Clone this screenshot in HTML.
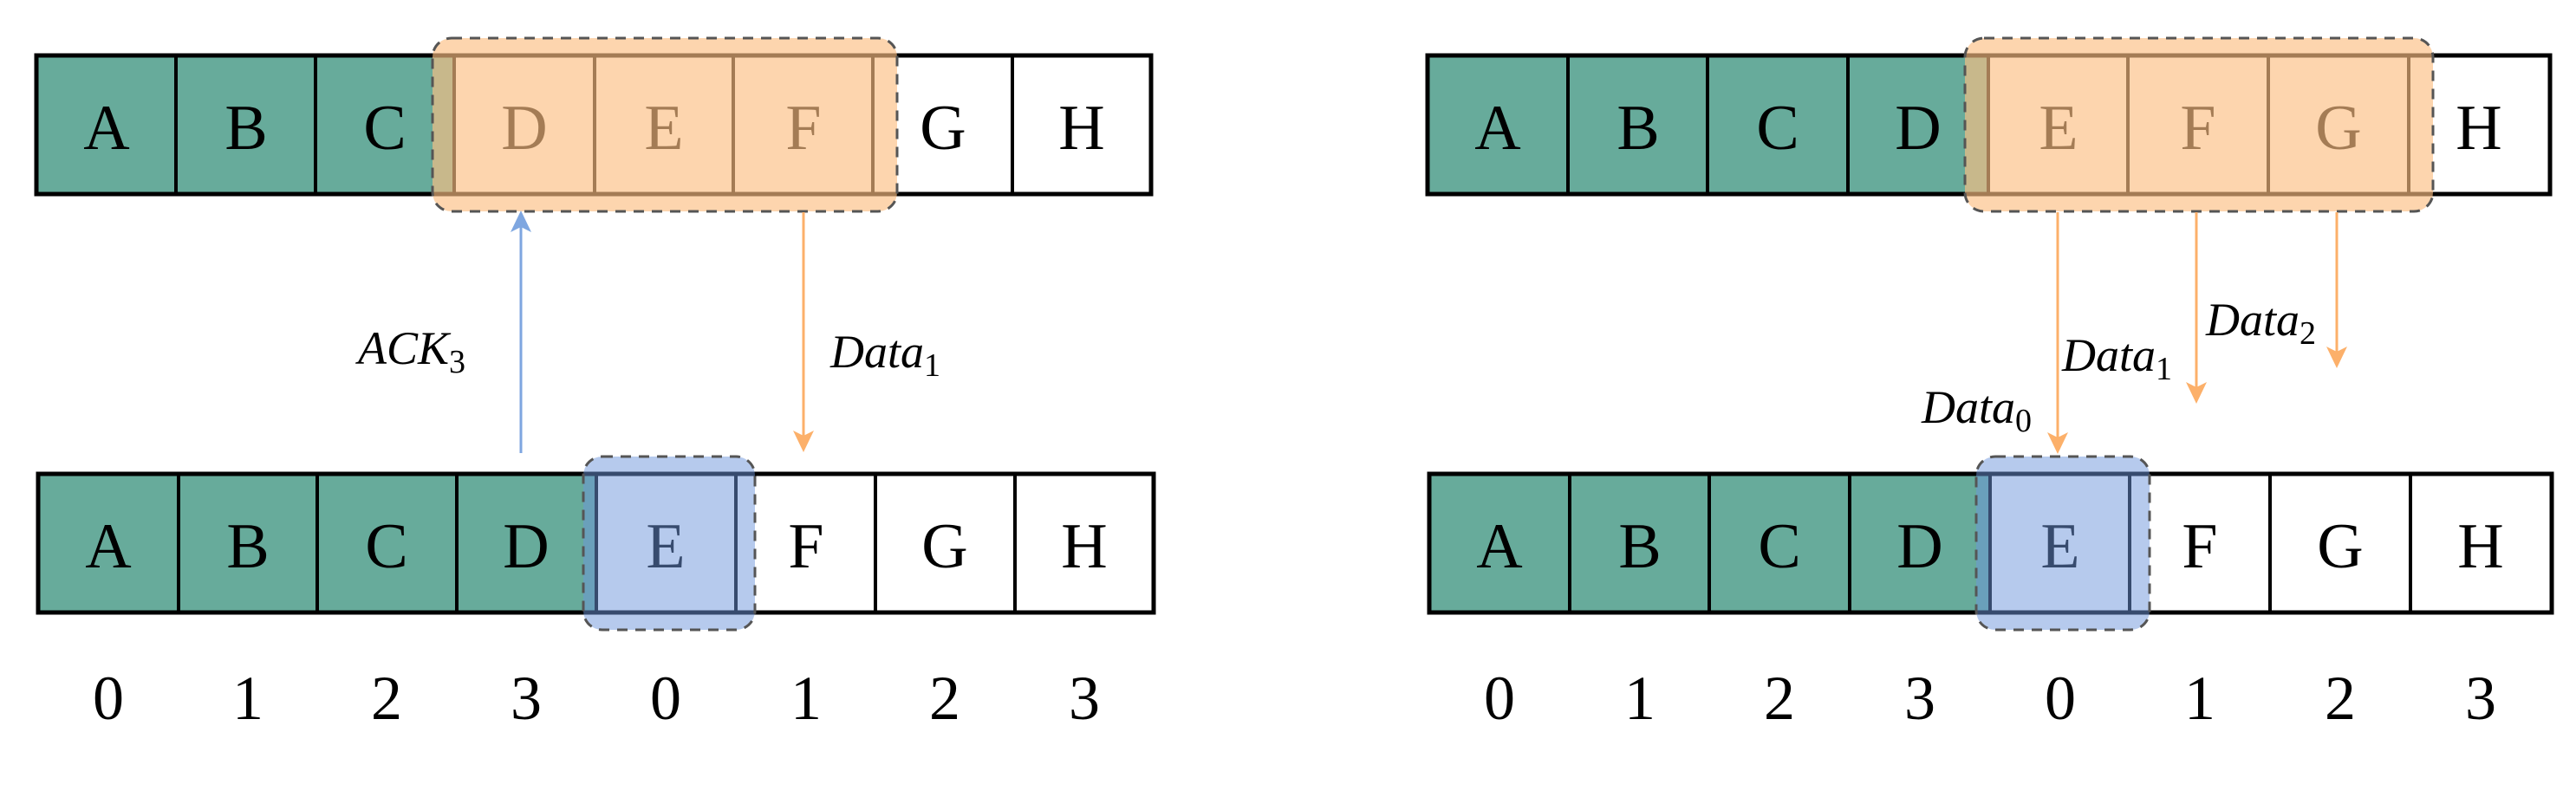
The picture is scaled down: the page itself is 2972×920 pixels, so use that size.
<!DOCTYPE html>
<html><head><meta charset="utf-8"><style>html,body{margin:0;padding:0;background:#fff}svg{display:block}</style></head>
<body>
<svg width="2972" height="920" viewBox="0 0 2972 920" xmlns="http://www.w3.org/2000/svg">
<g font-family="Liberation Serif, serif" font-size="74" text-anchor="middle">
<!-- LEFT TOP -->
<rect x="42" y="64" width="483" height="160" fill="#67ab9b"/>
<rect x="42" y="64" width="1286" height="160" fill="none" stroke="#000" stroke-width="5"/>
<g stroke="#000" stroke-width="4"><line x1="203" y1="64" x2="203" y2="224"/><line x1="364" y1="64" x2="364" y2="224"/><line x1="524" y1="64" x2="524" y2="224"/><line x1="686" y1="64" x2="686" y2="224"/><line x1="846" y1="64" x2="846" y2="224"/><line x1="1007" y1="64" x2="1007" y2="224"/><line x1="1168" y1="64" x2="1168" y2="224"/></g>
<text x="123" y="172">A</text><text x="284" y="172">B</text><text x="444" y="172">C</text><text x="605" y="172">D</text><text x="766" y="172">E</text><text x="927" y="172">F</text><text x="1088" y="172">G</text><text x="1248" y="172">H</text>
<rect x="499" y="44" width="536" height="200" rx="22" fill="rgba(252,190,130,0.65)" stroke="#555" stroke-width="3" stroke-dasharray="12 9"/>
<!-- LEFT BOTTOM -->
<rect x="44" y="547" width="644" height="160" fill="#67ab9b"/>
<rect x="44" y="547" width="1287" height="160" fill="none" stroke="#000" stroke-width="5"/>
<g stroke="#000" stroke-width="4"><line x1="206" y1="547" x2="206" y2="707"/><line x1="366" y1="547" x2="366" y2="707"/><line x1="527" y1="547" x2="527" y2="707"/><line x1="688" y1="547" x2="688" y2="707"/><line x1="849" y1="547" x2="849" y2="707"/><line x1="1010" y1="547" x2="1010" y2="707"/><line x1="1171" y1="547" x2="1171" y2="707"/></g>
<text x="125" y="655">A</text><text x="286" y="655">B</text><text x="446" y="655">C</text><text x="607" y="655">D</text><text x="768" y="655">E</text><text x="930" y="655">F</text><text x="1090" y="655">G</text><text x="1251" y="655">H</text>
<rect x="673" y="527" width="198" height="200" rx="22" fill="rgba(110,150,220,0.5)" stroke="#555" stroke-width="3" stroke-dasharray="12 9"/>
<g font-size="72"><text x="125" y="830">0</text><text x="286" y="830">1</text><text x="446" y="830">2</text><text x="607" y="830">3</text><text x="768" y="830">0</text><text x="930" y="830">1</text><text x="1090" y="830">2</text><text x="1251" y="830">3</text></g>
<!-- left arrows -->
<line x1="601" y1="523" x2="601" y2="250" stroke="#7ea6e0" stroke-width="3"/>
<path d="M601 243 L613 268 L601 262 L589 268 Z" fill="#7ea6e0"/>
<line x1="927" y1="245" x2="927" y2="515" stroke="#fcb06a" stroke-width="3"/>
<path d="M927 522 L939 497 L927 503 L915 497 Z" fill="#fcb06a"/>
<g font-style="italic" font-size="54" text-anchor="start">
<text x="413" y="420">ACK<tspan font-size="38" font-style="normal" dy="10">3</tspan></text>
<text x="958" y="424">Data<tspan font-size="38" font-style="normal" dy="10">1</tspan></text>
</g>
<!-- RIGHT TOP -->
<rect x="1647" y="64" width="647" height="160" fill="#67ab9b"/>
<rect x="1647" y="64" width="1295" height="160" fill="none" stroke="#000" stroke-width="5"/>
<g stroke="#000" stroke-width="4"><line x1="1809" y1="64" x2="1809" y2="224"/><line x1="1970" y1="64" x2="1970" y2="224"/><line x1="2132" y1="64" x2="2132" y2="224"/><line x1="2294" y1="64" x2="2294" y2="224"/><line x1="2455" y1="64" x2="2455" y2="224"/><line x1="2617" y1="64" x2="2617" y2="224"/><line x1="2779" y1="64" x2="2779" y2="224"/></g>
<text x="1728" y="172">A</text><text x="1890" y="172">B</text><text x="2051" y="172">C</text><text x="2213" y="172">D</text><text x="2375" y="172">E</text><text x="2536" y="172">F</text><text x="2698" y="172">G</text><text x="2860" y="172">H</text>
<rect x="2267" y="44" width="540" height="200" rx="22" fill="rgba(252,190,130,0.65)" stroke="#555" stroke-width="3" stroke-dasharray="12 9"/>
<!-- RIGHT BOTTOM -->
<rect x="1649" y="547" width="647" height="160" fill="#67ab9b"/>
<rect x="1649" y="547" width="1295" height="160" fill="none" stroke="#000" stroke-width="5"/>
<g stroke="#000" stroke-width="4"><line x1="1811" y1="547" x2="1811" y2="707"/><line x1="1972" y1="547" x2="1972" y2="707"/><line x1="2134" y1="547" x2="2134" y2="707"/><line x1="2296" y1="547" x2="2296" y2="707"/><line x1="2457" y1="547" x2="2457" y2="707"/><line x1="2619" y1="547" x2="2619" y2="707"/><line x1="2781" y1="547" x2="2781" y2="707"/></g>
<text x="1730" y="655">A</text><text x="1892" y="655">B</text><text x="2053" y="655">C</text><text x="2215" y="655">D</text><text x="2377" y="655">E</text><text x="2538" y="655">F</text><text x="2700" y="655">G</text><text x="2862" y="655">H</text>
<rect x="2280" y="527" width="200" height="200" rx="22" fill="rgba(110,150,220,0.5)" stroke="#555" stroke-width="3" stroke-dasharray="12 9"/>
<g font-size="72"><text x="1730" y="830">0</text><text x="1892" y="830">1</text><text x="2053" y="830">2</text><text x="2215" y="830">3</text><text x="2377" y="830">0</text><text x="2538" y="830">1</text><text x="2700" y="830">2</text><text x="2862" y="830">3</text></g>
<!-- right arrows -->
<g stroke="#fcb06a" stroke-width="3"><line x1="2374" y1="245" x2="2374" y2="517"/><line x1="2534" y1="245" x2="2534" y2="459"/><line x1="2696" y1="245" x2="2696" y2="418"/></g>
<g fill="#fcb06a"><path d="M2374 524 L2386 499 L2374 505 L2362 499 Z"/><path d="M2534 466 L2546 441 L2534 447 L2522 441 Z"/><path d="M2696 425 L2708 400 L2696 406 L2684 400 Z"/></g>
<g font-style="italic" font-size="54" text-anchor="start">
<text x="2217" y="488">Data<tspan font-size="38" font-style="normal" dy="10">0</tspan></text>
<text x="2379" y="428">Data<tspan font-size="38" font-style="normal" dy="10">1</tspan></text>
<text x="2545" y="387">Data<tspan font-size="38" font-style="normal" dy="10">2</tspan></text>
</g>
</g>
</svg>
</body></html>
